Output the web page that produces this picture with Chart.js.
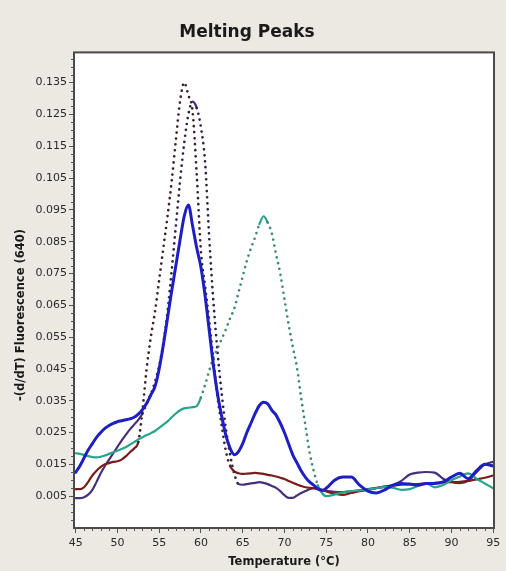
<!DOCTYPE html>
<html>
<head>
<meta charset="utf-8">
<script src="https://cdn.jsdelivr.net/npm/chart.js@4"></script>
<style>
  body { margin: 0; background: #ece9e2; }
</style>
</head>
<body>
<canvas id="grafica" width="506" height="571"></canvas>
<script>
// Temperaturas (°C)
const temps = [
    45, 45.5, 46, 46.5, 47, 47.5, 48, 48.5, 49, 49.5,
    50, 50.5, 51, 51.5, 52, 52.5, 53, 53.5, 54, 54.5,
    55, 55.5, 56, 56.5, 57, 57.5, 58, 58.5, 59, 59.5,
    60, 60.5, 61, 61.5, 62, 62.5, 63, 63.5, 64, 64.5,
    65, 65.5, 66, 66.5, 67, 67.5, 68, 68.5, 69, 69.5,
    70, 70.5, 71, 71.5, 72, 72.5, 73, 73.5, 74, 74.5,
    75,
    76, 77, 78, 79, 80, 81, 82, 83, 84, 85,
    86, 87, 88, 89, 90, 91, 92, 93, 94, 95
];

// -(d/dT) Fluorescence (640) por muestra
const azul = [
    0.0125, 0.0145, 0.017, 0.0195, 0.0215, 0.0235, 0.025, 0.0263, 0.0272, 0.0279,
    0.0284, 0.0287, 0.029, 0.0293, 0.0298, 0.0308, 0.0322, 0.0342, 0.0368, 0.0395,
    0.045, 0.0525, 0.061, 0.0695, 0.0775, 0.0855, 0.093, 0.0965, 0.090, 0.083,
    0.077, 0.068, 0.057, 0.046, 0.037, 0.030, 0.024, 0.020, 0.018, 0.019,
    0.0215, 0.025, 0.028, 0.031, 0.0335, 0.0345, 0.034, 0.032, 0.0305, 0.028,
    0.025, 0.0215, 0.018, 0.0155, 0.013, 0.011, 0.0095, 0.0085, 0.0073, 0.0068,
    0.0075,
    0.010, 0.011, 0.011, 0.0085, 0.0066, 0.006, 0.007, 0.0085, 0.009, 0.0088,
    0.0085, 0.009, 0.009, 0.0095, 0.011, 0.0122, 0.0105, 0.013, 0.015, 0.0145
];

const granate = [
    0.0072, 0.0072, 0.0078, 0.0095, 0.0115, 0.013, 0.0142, 0.015, 0.0154, 0.0158,
    0.016, 0.0165, 0.0175, 0.0188, 0.020, 0.022, 0.032, 0.045, 0.055, 0.063,
    0.073, 0.083, 0.093, 0.104, 0.117, 0.129, 0.135, 0.131, 0.126, 0.106,
    0.082, 0.071, 0.060, 0.048, 0.036, 0.027, 0.019, 0.0145, 0.0128, 0.0122,
    0.012, 0.0121, 0.0122, 0.0123, 0.0122, 0.012, 0.0117, 0.0115, 0.0112, 0.0108,
    0.0104, 0.0098, 0.0092, 0.0087, 0.0082, 0.0078, 0.0076, 0.0075, 0.0074, 0.007,
    0.0065,
    0.0058, 0.0054, 0.006, 0.0066, 0.007, 0.0075, 0.008, 0.0083, 0.0086, 0.0087,
    0.0088, 0.009, 0.0092, 0.0093, 0.0094, 0.0095, 0.0098, 0.0103, 0.0108, 0.0115
];

const morado = [
    0.0044, 0.0044, 0.0047, 0.0055, 0.007, 0.0095, 0.0122, 0.0145, 0.0165, 0.0185,
    0.0205, 0.0225, 0.0243, 0.026, 0.0275, 0.029, 0.031, 0.034, 0.037, 0.041,
    0.046, 0.053, 0.063, 0.076, 0.090, 0.104, 0.116, 0.125, 0.129, 0.127,
    0.121, 0.110, 0.086, 0.066, 0.050, 0.037, 0.026, 0.018, 0.012, 0.0088,
    0.0086, 0.0088, 0.009, 0.0092, 0.0094, 0.0092, 0.0088, 0.0082, 0.0076, 0.0066,
    0.0053, 0.0045, 0.0045, 0.0052, 0.006, 0.0066, 0.0072, 0.0075, 0.0073, 0.007,
    0.0067,
    0.0064, 0.0063, 0.0065, 0.0068, 0.0072, 0.0076, 0.008, 0.0085, 0.0098, 0.0118,
    0.0124, 0.0126, 0.0124, 0.0105, 0.0095, 0.0091, 0.0098, 0.0125, 0.015, 0.0158
];

const turquesa = [
    0.0185, 0.0183, 0.018, 0.0176, 0.0173, 0.0172, 0.0174, 0.0178, 0.0183, 0.0188,
    0.0193, 0.0198, 0.0204, 0.0212, 0.022, 0.0228, 0.0235, 0.0242, 0.0248, 0.0255,
    0.0265, 0.0275, 0.0285, 0.0298, 0.031, 0.032, 0.0326, 0.0328, 0.033, 0.0333,
    0.036, 0.040, 0.0445, 0.0485, 0.0515, 0.0545, 0.0575, 0.061, 0.064, 0.069,
    0.074, 0.079, 0.083, 0.0865, 0.0905, 0.093, 0.091, 0.0875, 0.081, 0.075,
    0.067, 0.059, 0.052, 0.0455, 0.036, 0.0275, 0.019, 0.013, 0.0085, 0.006,
    0.005,
    0.0055, 0.0062, 0.0066, 0.0068, 0.0071, 0.0075, 0.0079, 0.0076, 0.007, 0.0072,
    0.0082, 0.009, 0.0078, 0.0085, 0.010, 0.0112, 0.0122, 0.0105, 0.009, 0.0075
];

// Marcas de los ejes
const xTicks = [45, 50, 55, 60, 65, 70, 75, 80, 85, 90, 95];
const yTicks = [0.005, 0.015, 0.025, 0.035, 0.045, 0.055, 0.065, 0.075, 0.085, 0.095, 0.105, 0.115, 0.125, 0.135];

const fuente = "'DejaVu Sans', sans-serif";

// Tramos empinados se dibujan punteados (como el original)
function esEmpinado(ctx) {
    const dx = Math.abs(ctx.p1.x - ctx.p0.x);
    const dy = Math.abs(ctx.p1.y - ctx.p0.y);
    return dy > dx * 2.1;
}

function serie(valores, color, colorPunto, punteado, grosor) {
    return {
        data: temps.map((t, i) => ({ x: t, y: valores[i] })),
        borderColor: color,
        borderWidth: grosor,
        borderCapStyle: 'round',
        borderJoinStyle: 'round',
        pointRadius: 0,
        cubicInterpolationMode: 'monotone',
        segment: punteado ? {
            borderDash: ctx => esEmpinado(ctx) ? [0, 6] : undefined,
            borderColor: ctx => esEmpinado(ctx) ? colorPunto : undefined,
            borderWidth: ctx => esEmpinado(ctx) ? 2.7 : undefined
        } : {}
    };
}

// Fondo, marco, marcas menores y título del eje Y
const marcoPlugin = {
    id: 'marco',
    beforeDraw(chart) {
        const { ctx, chartArea: a } = chart;
        ctx.save();
        ctx.fillStyle = '#ece9e2';
        ctx.fillRect(0, 0, chart.width, chart.height);
        ctx.fillStyle = '#ffffff';
        ctx.fillRect(a.left, a.top, a.right - a.left, a.bottom - a.top);
        ctx.restore();
    },
    afterDraw(chart) {
        const { ctx, chartArea: a } = chart;
        const xs = chart.scales.x, ys = chart.scales.y;
        ctx.save();
        ctx.strokeStyle = '#4a4a4a';
        ctx.lineWidth = 2;
        ctx.strokeRect(a.left, a.top, a.right - a.left, a.bottom - a.top);

        ctx.lineWidth = 1;
        ctx.strokeStyle = '#555';
        ctx.beginPath();
        for (let v = -0.0025; v < ys.max; v += 0.0025) {
            if (yTicks.some(t => Math.abs(t - v) < 0.0001)) continue;
            const y = Math.round(ys.getPixelForValue(v)) + 0.5;
            ctx.moveTo(a.left - 3, y);
            ctx.lineTo(a.left, y);
        }
        for (let t = 45; t <= 95; t += 1) {
            if (xTicks.includes(t)) continue;
            const x = Math.round(xs.getPixelForValue(t)) + 0.5;
            ctx.moveTo(x, a.bottom);
            ctx.lineTo(x, a.bottom + 3);
        }
        ctx.stroke();

        ctx.translate(21, 315);
        ctx.rotate(-Math.PI / 2);
        ctx.fillStyle = '#1a1a1a';
        ctx.font = 'bold 11.5px ' + fuente;
        ctx.textAlign = 'center';
        ctx.textBaseline = 'middle';
        ctx.fillText('-(d/dT) Fluorescence (640)', 0, 0);
        ctx.restore();
    }
};

const ctxGrafica = document.getElementById('grafica').getContext('2d');

new Chart(ctxGrafica, {
    type: 'line',
    data: {
        datasets: [
            serie(azul, '#1e1ec4', '#1e1ec4', false, 3),
            serie(turquesa, '#27a48e', '#3f8a7a', true, 2.2),
            serie(granate, '#7a1c1c', '#3a2228', true, 2.2),
            serie(morado, '#45307a', '#2c2448', true, 2.2)
        ]
    },
    options: {
        responsive: false,
        animation: false,
        layout: { padding: { right: 12, left: 0, bottom: 0 } },
        plugins: {
            legend: { display: false },
            tooltip: { enabled: false },
            title: {
                display: true,
                text: 'Melting Peaks',
                color: '#1a1a1a',
                font: { family: fuente, size: 17, weight: 'bold' },
                padding: { top: 22, bottom: 10 }
            }
        },
        scales: {
            x: {
                type: 'linear',
                min: 44.8,
                max: 95.1,
                afterBuildTicks: s => { s.ticks = xTicks.map(v => ({ value: v })); },
                afterFit: s => { s.height = 43; },
                grid: { display: true, drawOnChartArea: false, drawTicks: true, tickLength: 5, color: '#555' },
                border: { display: false },
                ticks: {
                    color: '#2a2a2a',
                    font: { family: fuente, size: 11 },
                    padding: 4,
                    maxRotation: 0
                },
                title: {
                    display: true,
                    text: 'Temperature (°C)',
                    color: '#1a1a1a',
                    font: { family: fuente, size: 11.5, weight: 'bold' },
                    padding: { top: 2, bottom: 2 }
                }
            },
            y: {
                min: -0.005,
                max: 0.1445,
                afterBuildTicks: s => { s.ticks = yTicks.map(v => ({ value: v })); },
                afterFit: s => { s.width = 74; },
                grid: { display: true, drawOnChartArea: false, drawTicks: true, tickLength: 5, color: '#555' },
                border: { display: false },
                ticks: {
                    color: '#2a2a2a',
                    font: { family: fuente, size: 11 },
                    padding: 2,
                    callback: v => v.toFixed(3)
                }
            }
        }
    },
    plugins: [marcoPlugin]
});
</script>
</body>
</html>
